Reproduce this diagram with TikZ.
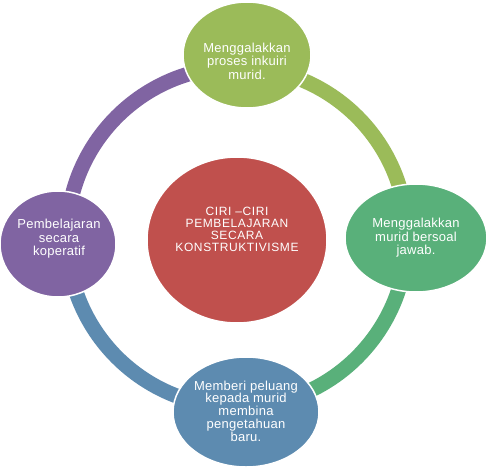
\documentclass[tikz,border=0pt]{standalone}
\usepackage{fontspec}
\setmainfont{Liberation Sans}
\newfontfamily\ccfont[LetterSpace=2]{Liberation Sans}
\newfontfamily\cchubfont[LetterSpace=5]{Liberation Sans}
\usepackage{tikz}
\usetikzlibrary{shapes.geometric}
\definecolor{cclime}   {HTML}{9BBB59}
\definecolor{ccgreen}  {HTML}{59B07A}
\definecolor{ccblue}   {HTML}{5D8BB0}
\definecolor{ccpurple} {HTML}{8064A2}
\definecolor{ccred}    {HTML}{C0504D}
\tikzset{
  ccblob/.style={ellipse, draw=white, line width=1.5pt, inner sep=0pt},
  ccring/.style={line width=15pt},
  cctext/.style={text=white, align=center, inner sep=0pt,
                 font=\ccfont\fontsize{13}{13.5}\selectfont},
  cchubtext/.style={cctext, font=\cchubfont\fontsize{12}{12}\selectfont},
}
\begin{document}
\begin{tikzpicture}[x=1pt,y=-1pt]
  \useasboundingbox (0,0) rectangle (487,471);
  \coordinate (hub) at (237,237);

  % ring segments, drawn under the nodes
  \draw[ccring,ccpurple] ([shift={(180:170)}]hub) arc[start angle=180, end angle=270, radius=170];
  \draw[ccring,cclime]   ([shift={(270:170)}]hub) arc[start angle=270, end angle=360, radius=170];
  \draw[ccring,ccgreen]  ([shift={(0:170)}]hub)   arc[start angle=0,   end angle=90,  radius=170];
  \draw[ccring,ccblue]   ([shift={(90:170)}]hub)  arc[start angle=90,  end angle=180, radius=170];

  % outer nodes
  \node[ccblob, fill=cclime,   minimum width=128pt, minimum height=106pt] (inkuiri) at (247,55) {};
  \node[ccblob, fill=ccgreen,  minimum width=142pt, minimum height=108pt] (soal)    at (416,238) {};
  \node[ccblob, fill=ccblue,   minimum width=146pt, minimum height=110pt] (baru)    at (246,412) {};
  \node[ccblob, fill=ccpurple, minimum width=116pt, minimum height=106pt] (koop)    at (58,244) {};
  \node[ccblob, fill=ccred,    minimum width=180pt, minimum height=166pt] (ciri)    at (237,240) {};

  \node[cctext] (inkuiritext) at (247,61) {Menggalakkan\\proses inkuiri\\murid.};
  \node[cctext] (soaltext)    at (416,238) {Menggalakkan\\murid bersoal\\jawab.};
  \node[cctext, font=\ccfont\fontsize{13}{12.8}\selectfont] (barutext) at (246,411)
    {Memberi peluang\\kepada murid\\membina\\pengetahuan\\baru.};
  \node[cctext] (kooptext)    at (59,239) {Pembelajaran\\secara\\koperatif};
  \node[cchubtext] (ciritext) at (237,229) {CIRI –CIRI\\PEMBELAJARAN\\SECARA\\KONSTRUKTIVISME};
\end{tikzpicture}
\end{document}
